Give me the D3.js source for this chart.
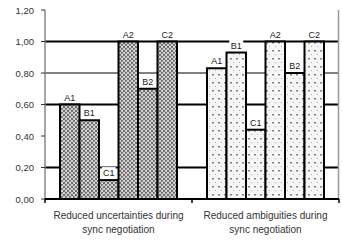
<!DOCTYPE html>
<html>
<head>
<meta charset="utf-8">
<script src="https://cdn.jsdelivr.net/npm/d3@7"></script>
<style>
	body { margin: 0; background: #fff; }
	svg { display: block; font-family: 'Liberation Sans', Arial, sans-serif; }
</style>
</head>
<body>
<div id="chart"></div>
<script>
(function() {
	'use strict';

	// data
	var categories = ['uncertainties', 'ambiguities'];
	var categoryLines = [
		['Reduced uncertainties during', 'sync negotiation'],
		['Reduced ambiguities during', 'sync negotiation']
	];
	var series = ['A1', 'B1', 'C1', 'A2', 'B2', 'C2'];
	var uncertaintyValues = [0.60, 0.50, 0.12, 1.00, 0.70, 1.00];
	var ambiguityValues = [0.83, 0.93, 0.44, 1.00, 0.80, 1.00];
	var yTicks = [0, 0.2, 0.4, 0.6, 0.8, 1.0, 1.2];
	var gridValues = [0.2, 0.6, 0.8, 1.0];

	var WIDTH = 342;
	var HEIGHT = 246;
	var LEFT = 45;
	var RIGHT = 339;
	var TOP = 10;
	var BOTTOM = 199;

	var valuesByCategory = [uncertaintyValues, ambiguityValues];
	var patternByCategory = ['hatch', 'dots'];

	var svg = d3.select('#chart')
		.append('svg')
		.attr('width', WIDTH)
		.attr('height', HEIGHT);

	var defs = svg.append('defs');

	// checkered cross hatch for the first group
	var hatch = defs.append('pattern')
		.attr('id', 'hatch')
		.attr('patternUnits', 'userSpaceOnUse')
		.attr('width', 4)
		.attr('height', 4);
	hatch.append('rect').attr('width', 4).attr('height', 4).attr('fill', '#d0d0d0');
	hatch.append('rect').attr('x', 0).attr('y', 0).attr('width', 2).attr('height', 2).attr('fill', '#707070');
	hatch.append('rect').attr('x', 2).attr('y', 2).attr('width', 2).attr('height', 2).attr('fill', '#707070');
	hatch.append('rect').attr('x', 1).attr('y', 1).attr('width', 1).attr('height', 1).attr('fill', '#a8a8a8');

	// sparse dots for the second group
	var dots = defs.append('pattern')
		.attr('id', 'dots')
		.attr('patternUnits', 'userSpaceOnUse')
		.attr('width', 6)
		.attr('height', 8);
	dots.append('rect').attr('width', 6).attr('height', 8).attr('fill', '#f6f6f6');
	dots.append('rect').attr('x', 2).attr('y', 2).attr('width', 2).attr('height', 1.5).attr('fill', '#808080');
	dots.append('rect').attr('x', 5).attr('y', 6).attr('width', 1).attr('height', 1).attr('fill', '#b0b0b0');

	var x0 = d3.scaleBand()
		.domain(categories)
		.range([LEFT, RIGHT])
		.paddingInner(0)
		.paddingOuter(0);

	var x1 = d3.scaleBand()
		.domain(series)
		.range([15, x0.bandwidth() - 15])
		.padding(0);

	var y = d3.scaleLinear()
		.domain([0, 1.2])
		.range([BOTTOM, TOP]);

	// grid lines
	svg.append('g')
		.selectAll('line')
		.data(gridValues)
		.enter()
		.append('line')
		.attr('x1', LEFT)
		.attr('x2', RIGHT)
		.attr('y1', function(d) { return y(d); })
		.attr('y2', function(d) { return y(d); })
		.attr('stroke', '#000')
		.attr('stroke-width', function(d) { return d === 0.8 ? 1 : 1.8; });

	// right frame line
	svg.append('line')
		.attr('x1', RIGHT - 0.5).attr('x2', RIGHT - 0.5)
		.attr('y1', TOP).attr('y2', BOTTOM)
		.attr('stroke', '#999')
		.attr('stroke-width', 1.5);

	// bars
	var groups = svg.append('g')
		.selectAll('g')
		.data(categories)
		.enter()
		.append('g')
		.attr('transform', function(d) { return 'translate(' + x0(d) + ',0)'; });

	groups.each(function(cat, ci) {
		var g = d3.select(this);
		var rows = series.map(function(s, i) {
			return { name: s, value: valuesByCategory[ci][i] };
		});

		g.selectAll('rect.bar')
			.data(rows)
			.enter()
			.append('rect')
			.attr('class', 'bar')
			.attr('x', function(d) { return x1(d.name); })
			.attr('y', function(d) { return y(d.value); })
			.attr('width', x1.bandwidth())
			.attr('height', function(d) { return y(0) - y(d.value); })
			.attr('fill', 'url(#' + patternByCategory[ci] + ')')
			.attr('stroke', '#000')
			.attr('stroke-width', 2);

		var labels = g.selectAll('g.lbl')
			.data(rows)
			.enter()
			.append('g')
			.attr('class', 'lbl')
			.attr('transform', function(d) {
				return 'translate(' + (x1(d.name) + x1.bandwidth() / 2) + ',' + (y(d.value) - 4) + ')';
			});

		labels.append('rect')
			.attr('x', -7)
			.attr('y', -9)
			.attr('width', 14)
			.attr('height', 10)
			.attr('fill', '#fff');

		labels.append('text')
			.attr('text-anchor', 'middle')
			.attr('font-size', '9px')
			.attr('fill', '#222')
			.text(function(d) { return d.name; });
	});

	// y axis
	var yAxis = svg.append('g');
	yAxis.append('line')
		.attr('x1', LEFT).attr('x2', LEFT)
		.attr('y1', TOP).attr('y2', BOTTOM)
		.attr('stroke', '#888')
		.attr('stroke-width', 1.5);

	yAxis.selectAll('line.tick')
		.data(yTicks)
		.enter()
		.append('line')
		.attr('class', 'tick')
		.attr('x1', LEFT - 4)
		.attr('x2', LEFT)
		.attr('y1', function(d) { return y(d); })
		.attr('y2', function(d) { return y(d); })
		.attr('stroke', '#333')
		.attr('stroke-width', 1);

	yAxis.selectAll('text')
		.data(yTicks)
		.enter()
		.append('text')
		.attr('x', 34)
		.attr('y', function(d) { return y(d) + 3.5; })
		.attr('text-anchor', 'end')
		.attr('font-size', '9.5px')
		.attr('fill', '#333')
		.text(function(d) { return d.toFixed(2).replace('.', ','); });

	// x axis
	svg.append('line')
		.attr('x1', LEFT).attr('x2', RIGHT)
		.attr('y1', BOTTOM).attr('y2', BOTTOM)
		.attr('stroke', '#000')
		.attr('stroke-width', 2);

	var boundaries = categories.map(function(c) { return x0(c); }).concat([RIGHT]);
	svg.selectAll('line.xtick')
		.data(boundaries)
		.enter()
		.append('line')
		.attr('class', 'xtick')
		.attr('x1', function(d) { return d; })
		.attr('x2', function(d) { return d; })
		.attr('y1', BOTTOM)
		.attr('y2', BOTTOM + 4)
		.attr('stroke', '#000')
		.attr('stroke-width', 1.5);

	var catText = svg.selectAll('text.cat')
		.data(categories)
		.enter()
		.append('text')
		.attr('class', 'cat')
		.attr('text-anchor', 'middle')
		.attr('font-size', '10px')
		.attr('fill', '#333')
		.attr('x', function(d) { return x0(d) + x0.bandwidth() / 2; })
		.attr('y', 219);

	catText.each(function(d, i) {
		var t = d3.select(this);
		categoryLines[i].forEach(function(line, li) {
			t.append('tspan')
				.attr('x', x0(d) + x0.bandwidth() / 2)
				.attr('dy', li === 0 ? 0 : 14)
				.text(line);
		});
	});
}());
</script>
</body>
</html>
